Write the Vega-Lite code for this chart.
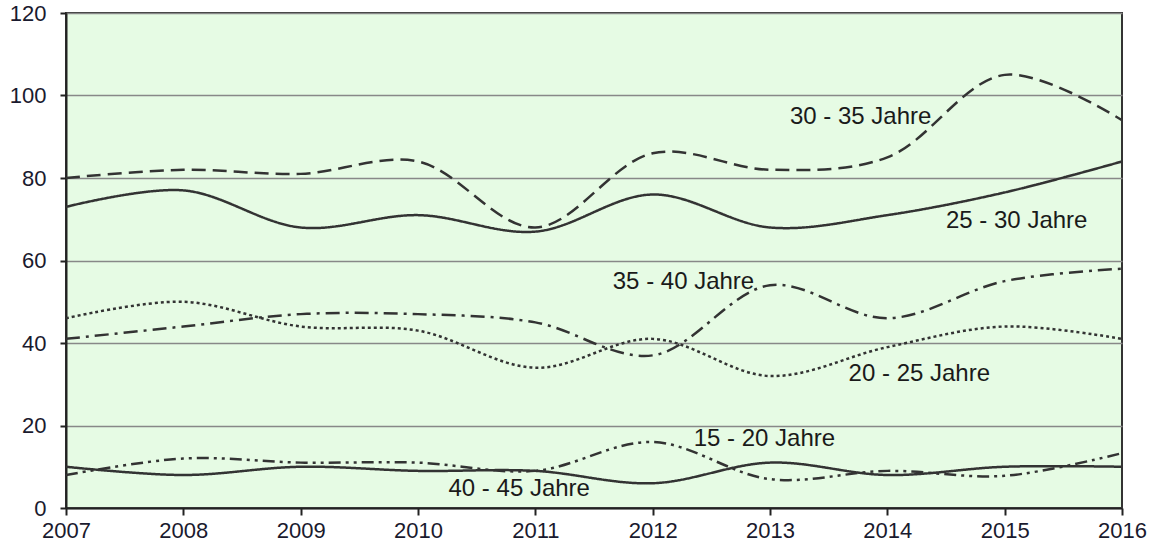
{
  "$schema": "https://vega.github.io/schema/vega-lite/v6.json",
  "width": 1056,
  "height": 495,
  "autosize": {"type": "none"},
  "padding": {"left": 66, "top": 13, "right": 35, "bottom": 39},
  "background": "white",
  "config": {
    "font": "Liberation Sans",
    "view": {"fill": "#e6fbe4", "stroke": "#333333", "strokeWidth": 2},
    "axis": {
      "labelFont": "Liberation Sans",
      "labelFontSize": 22,
      "labelColor": "#1a1a2e",
      "domainColor": "#222222",
      "domainWidth": 2,
      "tickColor": "#222222",
      "tickWidth": 2,
      "tickSize": 6,
      "gridColor": "#888888",
      "gridWidth": 1.5,
      "title": null
    }
  },
  "datasets": {
    "series": [
      {"group": "30 - 35 Jahre", "year": 2007, "value": 80},
      {"group": "30 - 35 Jahre", "year": 2008, "value": 82},
      {"group": "30 - 35 Jahre", "year": 2009, "value": 81},
      {"group": "30 - 35 Jahre", "year": 2010, "value": 84},
      {"group": "30 - 35 Jahre", "year": 2011, "value": 68},
      {"group": "30 - 35 Jahre", "year": 2012, "value": 86},
      {"group": "30 - 35 Jahre", "year": 2013, "value": 82},
      {"group": "30 - 35 Jahre", "year": 2014, "value": 85},
      {"group": "30 - 35 Jahre", "year": 2015, "value": 105},
      {"group": "30 - 35 Jahre", "year": 2016, "value": 94},
      {"group": "25 - 30 Jahre", "year": 2007, "value": 73},
      {"group": "25 - 30 Jahre", "year": 2008, "value": 77},
      {"group": "25 - 30 Jahre", "year": 2009, "value": 68},
      {"group": "25 - 30 Jahre", "year": 2010, "value": 71},
      {"group": "25 - 30 Jahre", "year": 2011, "value": 67},
      {"group": "25 - 30 Jahre", "year": 2012, "value": 76},
      {"group": "25 - 30 Jahre", "year": 2013, "value": 68},
      {"group": "25 - 30 Jahre", "year": 2014, "value": 71},
      {"group": "25 - 30 Jahre", "year": 2015, "value": 76.5},
      {"group": "25 - 30 Jahre", "year": 2016, "value": 84},
      {"group": "20 - 25 Jahre", "year": 2007, "value": 46},
      {"group": "20 - 25 Jahre", "year": 2008, "value": 50},
      {"group": "20 - 25 Jahre", "year": 2009, "value": 44},
      {"group": "20 - 25 Jahre", "year": 2010, "value": 43},
      {"group": "20 - 25 Jahre", "year": 2011, "value": 34},
      {"group": "20 - 25 Jahre", "year": 2012, "value": 41},
      {"group": "20 - 25 Jahre", "year": 2013, "value": 32},
      {"group": "20 - 25 Jahre", "year": 2014, "value": 39},
      {"group": "20 - 25 Jahre", "year": 2015, "value": 44},
      {"group": "20 - 25 Jahre", "year": 2016, "value": 41},
      {"group": "35 - 40 Jahre", "year": 2007, "value": 41},
      {"group": "35 - 40 Jahre", "year": 2008, "value": 44},
      {"group": "35 - 40 Jahre", "year": 2009, "value": 47},
      {"group": "35 - 40 Jahre", "year": 2010, "value": 47},
      {"group": "35 - 40 Jahre", "year": 2011, "value": 45},
      {"group": "35 - 40 Jahre", "year": 2012, "value": 37},
      {"group": "35 - 40 Jahre", "year": 2013, "value": 54},
      {"group": "35 - 40 Jahre", "year": 2014, "value": 46},
      {"group": "35 - 40 Jahre", "year": 2015, "value": 55},
      {"group": "35 - 40 Jahre", "year": 2016, "value": 58},
      {"group": "15 - 20 Jahre", "year": 2007, "value": 8},
      {"group": "15 - 20 Jahre", "year": 2008, "value": 12},
      {"group": "15 - 20 Jahre", "year": 2009, "value": 11},
      {"group": "15 - 20 Jahre", "year": 2010, "value": 11},
      {"group": "15 - 20 Jahre", "year": 2011, "value": 9},
      {"group": "15 - 20 Jahre", "year": 2012, "value": 16},
      {"group": "15 - 20 Jahre", "year": 2013, "value": 7},
      {"group": "15 - 20 Jahre", "year": 2014, "value": 9},
      {"group": "15 - 20 Jahre", "year": 2015, "value": 7.8},
      {"group": "15 - 20 Jahre", "year": 2016, "value": 13.3},
      {"group": "40 - 45 Jahre", "year": 2007, "value": 10},
      {"group": "40 - 45 Jahre", "year": 2008, "value": 8},
      {"group": "40 - 45 Jahre", "year": 2009, "value": 10},
      {"group": "40 - 45 Jahre", "year": 2010, "value": 9},
      {"group": "40 - 45 Jahre", "year": 2011, "value": 9},
      {"group": "40 - 45 Jahre", "year": 2012, "value": 6},
      {"group": "40 - 45 Jahre", "year": 2013, "value": 11},
      {"group": "40 - 45 Jahre", "year": 2014, "value": 8},
      {"group": "40 - 45 Jahre", "year": 2015, "value": 10},
      {"group": "40 - 45 Jahre", "year": 2016, "value": 10}
    ],
    "labels": [
      {"label": "30 - 35 Jahre", "year": 2013.17, "value": 94.8},
      {"label": "25 - 30 Jahre", "year": 2014.5, "value": 69.6},
      {"label": "35 - 40 Jahre", "year": 2011.66, "value": 54.8},
      {"label": "20 - 25 Jahre", "year": 2013.67, "value": 32.5},
      {"label": "15 - 20 Jahre", "year": 2012.35, "value": 16.7},
      {"label": "40 - 45 Jahre", "year": 2010.26, "value": 4.6}
    ]
  },
  "layer": [
    {
      "data": {"name": "series"},
      "mark": {"type": "line", "interpolate": "catmull-rom", "strokeWidth": 2.5, "color": "#333333", "clip": true},
      "encoding": {
        "x": {
          "field": "year", "type": "quantitative",
          "scale": {"domain": [2007, 2016], "nice": false, "zero": false},
          "axis": {"values": [2007, 2008, 2009, 2010, 2011, 2012, 2013, 2014, 2015, 2016], "format": "d", "grid": false, "tickSize": 7, "labelPadding": 5, "labelFlush": false}
        },
        "y": {
          "field": "value", "type": "quantitative",
          "scale": {"domain": [0, 120], "nice": false},
          "axis": {"values": [0, 20, 40, 60, 80, 100, 120], "grid": true, "labelPadding": 14}
        },
        "detail": {"field": "group"},
        "strokeDash": {
          "field": "group", "type": "nominal", "legend": null,
          "scale": {
            "domain": ["30 - 35 Jahre", "25 - 30 Jahre", "20 - 25 Jahre", "35 - 40 Jahre", "15 - 20 Jahre", "40 - 45 Jahre"],
            "range": [[14, 7], [1, 0], [3, 3], [14, 6, 3, 6], [12, 5, 3, 5, 3, 5], [1, 0]]
          }
        }
      }
    },
    {
      "data": {"name": "labels"},
      "mark": {"type": "text", "align": "left", "baseline": "middle", "fontSize": 24, "font": "Liberation Sans", "color": "#1a1a1a"},
      "encoding": {
        "x": {"field": "year", "type": "quantitative"},
        "y": {"field": "value", "type": "quantitative"},
        "text": {"field": "label"}
      }
    }
  ]
}
